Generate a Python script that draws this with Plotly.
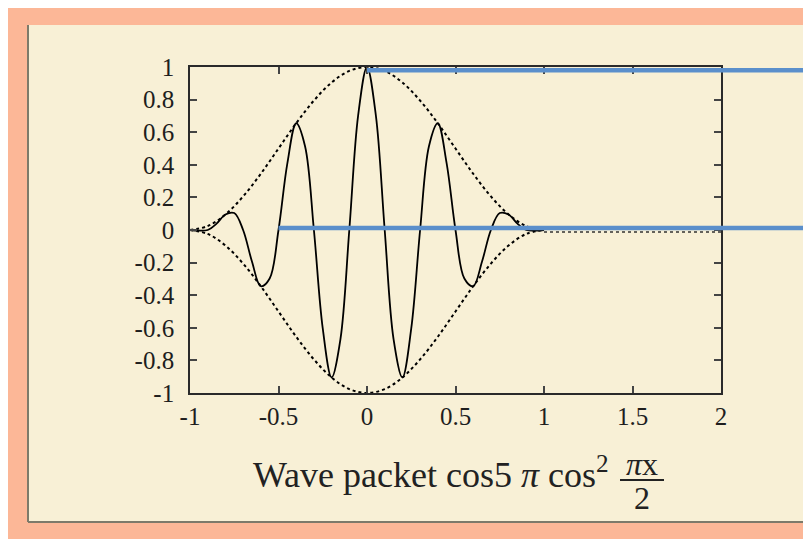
import plotly.graph_objects as go

# ---- data ----
wave_x = [-1.00, -0.95, -0.90, -0.85, -0.80, -0.75, -0.70, -0.65, -0.60, -0.55, -0.50,
          -0.45, -0.40, -0.35, -0.30, -0.25, -0.20, -0.15, -0.10, -0.05, 0.00,
          0.05, 0.10, 0.15, 0.20, 0.25, 0.30, 0.35, 0.40, 0.45, 0.50,
          0.55, 0.60, 0.65, 0.70, 0.75, 0.80, 0.85, 0.90, 0.95, 1.00]
wave_y = [0.0, -0.004, 0.0, 0.039, 0.095, 0.104, 0.0, -0.193, -0.345, -0.298, 0.0,
          0.409, 0.655, 0.514, 0.0, -0.604, -0.905, -0.669, 0.0, 0.703, 1.0,
          0.703, 0.0, -0.669, -0.905, -0.604, 0.0, 0.514, 0.655, 0.409, 0.0,
          -0.298, -0.345, -0.193, 0.0, 0.104, 0.095, 0.039, 0.0, -0.004, 0.0]

env_x = [-1.0, -0.9, -0.8, -0.7, -0.6, -0.5, -0.4, -0.3, -0.2, -0.1, 0.0,
         0.1, 0.2, 0.3, 0.4, 0.5, 0.6, 0.7, 0.8, 0.9, 1.0]
env_upper = [0.0, 0.024, 0.095, 0.206, 0.345, 0.5, 0.655, 0.794, 0.905, 0.976, 1.0,
             0.976, 0.905, 0.794, 0.655, 0.5, 0.345, 0.206, 0.095, 0.024, 0.0]
env_lower = [-v for v in env_upper]

tail_x = [1.0, 2.0]
tail_y = [-0.012, -0.012]

# blue marker lines: (start x, y level)
blue_lines = [(0.0, 0.98), (-0.5, 0.012)]

x_ticks = [-1, -0.5, 0, 0.5, 1, 1.5, 2]
x_tick_text = ["-1", "-0.5", "0", "0.5", "1", "1.5", "2"]
y_ticks = [-1, -0.8, -0.6, -0.4, -0.2, 0, 0.2, 0.4, 0.6, 0.8, 1]
y_tick_text = ["-1", "-0.8", "-0.6", "-0.4", "-0.2", "0", "0.2", "0.4", "0.6", "0.8", "1"]

title_main = "Wave packet cos5 <i>π</i> cos<sup>2</sup>"
frac_num = "<i>π</i>x"
frac_den = "2"

# ---- layout geometry (page pixels; the page body adds an 8px margin) ----
OFF = 8
PAGE_W, PAGE_H = 811, 539
W, H = PAGE_W - OFF, PAGE_H - OFF
L, R, T, B = 190, 721, 67, 393          # plot area in page pixels
SALMON = "#fcb797"
CREAM = "#f8f0d6"
BLUE = "#5b8fcb"
SERIF = "Liberation Serif, Times New Roman, serif"


def px(xp):
    return (xp - L) / (R - L)


def py(yp):
    return (B - yp) / (B - T)


fig = go.Figure()

fig.add_trace(go.Scatter(x=env_x, y=env_upper, mode="lines",
                         line=dict(color="black", width=2.0, dash="dot", shape="spline"),
                         hoverinfo="skip", showlegend=False))
fig.add_trace(go.Scatter(x=env_x, y=env_lower, mode="lines",
                         line=dict(color="black", width=2.0, dash="dot", shape="spline"),
                         hoverinfo="skip", showlegend=False))
fig.add_trace(go.Scatter(x=tail_x, y=tail_y, mode="lines",
                         line=dict(color="#333", width=1.5, dash="dot"),
                         hoverinfo="skip", showlegend=False))
fig.add_trace(go.Scatter(x=wave_x, y=wave_y, mode="lines",
                         line=dict(color="black", width=1.8, shape="spline", smoothing=1.0),
                         hoverinfo="skip", showlegend=False))

shapes = [
    # cream panel
    dict(type="rect", xref="paper", yref="paper", x0=px(28), x1=px(805), y0=py(25), y1=py(522),
         fillcolor=CREAM, line=dict(width=0), layer="below"),
    dict(type="line", xref="paper", yref="paper", x0=px(28), x1=px(28), y0=py(25), y1=py(522),
         line=dict(color="#7d7a6a", width=2), layer="below"),
    dict(type="line", xref="paper", yref="paper", x0=px(28), x1=px(805), y0=py(522), y1=py(522),
         line=dict(color="#7d7a6a", width=2), layer="below"),
    # fraction bar
    dict(type="line", xref="paper", yref="paper", x0=px(620), x1=px(664), y0=py(480), y1=py(480),
         line=dict(color="#222", width=2)),
]

for x0, yv in blue_lines:
    shapes.append(dict(type="line", xref="x", yref="y", x0=x0, x1=2, y0=yv, y1=yv,
                       line=dict(color=BLUE, width=4.5), layer="above"))
    shapes.append(dict(type="line", xref="paper", yref="y", x0=1, x1=px(PAGE_W + 5), y0=yv, y1=yv,
                       line=dict(color=BLUE, width=4.5), layer="above"))

fig.update_layout(shapes=shapes)

fig.add_annotation(text=title_main, xref="paper", yref="paper", x=px(611), y=py(472),
                   xanchor="right", yanchor="middle", showarrow=False,
                   font=dict(family=SERIF, size=36, color="#222"))
fig.add_annotation(text=frac_num, xref="paper", yref="paper", x=px(642), y=py(464),
                   xanchor="center", yanchor="middle", showarrow=False,
                   font=dict(family=SERIF, size=32, color="#222"))
fig.add_annotation(text=frac_den, xref="paper", yref="paper", x=px(642), y=py(498),
                   xanchor="center", yanchor="middle", showarrow=False,
                   font=dict(family=SERIF, size=32, color="#222"))

axis_common = dict(showgrid=False, zeroline=False, showline=True, linecolor="#2a2a2a",
                   linewidth=1.6, mirror="ticks", ticks="inside", ticklen=7, tickwidth=1.5,
                   tickcolor="#444", tickfont=dict(family=SERIF, size=25, color="#1e1e1e"))

fig.update_xaxes(range=[-1, 2], tickvals=x_ticks, ticktext=x_tick_text,
                 ticklabelstandoff=0, **axis_common)
fig.update_yaxes(range=[-1, 1], tickvals=y_ticks, ticktext=y_tick_text,
                 ticklabelstandoff=9, **axis_common)

fig.update_layout(width=W, height=H,
                  margin=dict(l=L - OFF, r=PAGE_W - R, t=T - OFF, b=PAGE_H - B),
                  paper_bgcolor=SALMON, plot_bgcolor="rgba(0,0,0,0)",
                  showlegend=False)

fig.write_html("out.html")
